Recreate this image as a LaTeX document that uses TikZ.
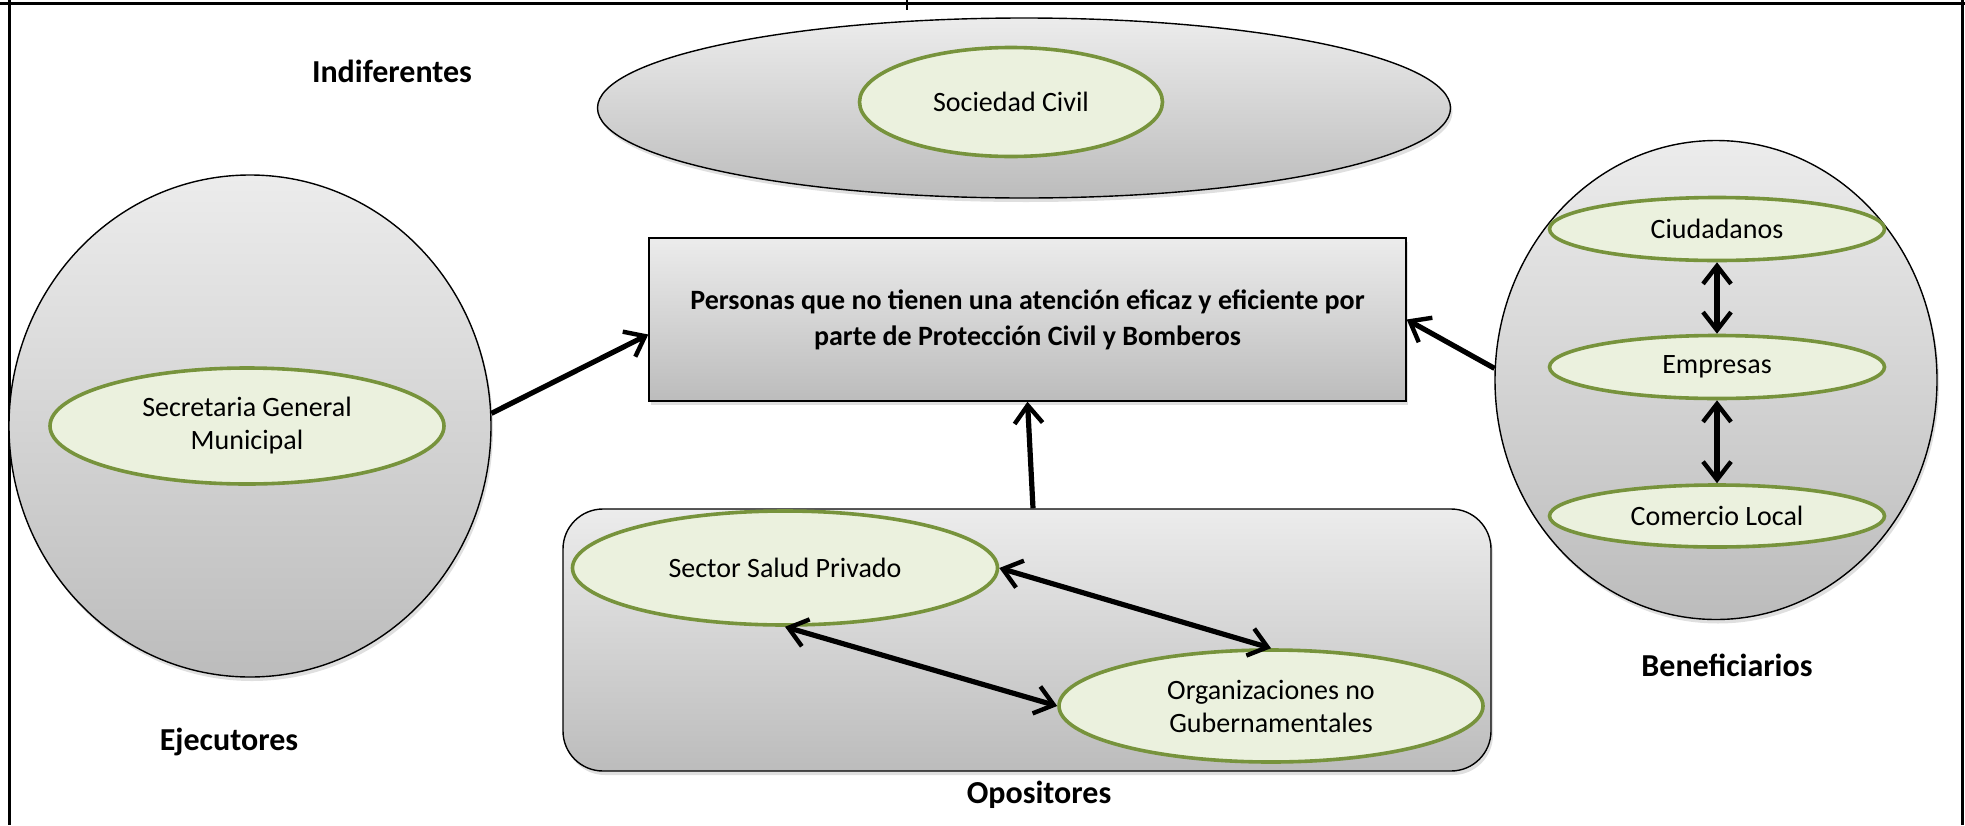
\documentclass[tikz,border=0pt]{standalone}
\usepackage{fontspec}
\setmainfont{Carlito}
\usetikzlibrary{shapes.geometric,arrows.meta,calc,shadows}
\definecolor{topgray}{RGB}{236,236,236}
\definecolor{botgray}{RGB}{188,188,188}
\definecolor{leaffill}{RGB}{235,241,222}
\definecolor{leafline}{RGB}{119,147,60}
\tikzset{
  grayshape/.style={draw=black, line width=0.7pt, top color=topgray, bottom color=botgray,
    drop shadow={opacity=0.25, shadow xshift=1pt, shadow yshift=-2pt}},
  leaf/.style={ellipse, draw=leafline, fill=leaffill, line width=1.8pt, inner sep=0pt,
    align=center, font=\fontsize{14}{16.5}\selectfont},
  grouplabel/.style={font=\fontsize{16}{19}\selectfont\bfseries},
  arr/.style={-{Straight Barb[length=9pt,width=14pt,line width=2.2pt]}, line width=2.6pt},
  darr/.style={{Straight Barb[length=9pt,width=14pt,line width=2.2pt]}-{Straight Barb[length=9pt,width=14pt,line width=2.2pt]}, line width=2.6pt},
  frameline/.style={line width=1.5pt, draw=black}
}
\begin{document}
\begin{tikzpicture}[x=0.5pt, y=-0.5pt]
\useasboundingbox (0,0) rectangle (1965,825);
% frame
\draw[frameline] (0,3) -- (1965,3);
\draw[frameline] (9,0) -- (9,825);
\draw[frameline] (1962,0) -- (1962,825);
\draw[line width=0.8pt] (907,0) -- (907,10);

% Indiferentes
\node[grayshape, ellipse, minimum width=426.5pt, minimum height=90pt, inner sep=0pt] (scouter) at (1024,108) {};
\node[leaf, minimum width=151.5pt, minimum height=54.5pt] (sc) at (1011,102) {Sociedad Civil};
\node[grouplabel] (lind) at (392,71) {Indiferentes};

% Ejecutores
\node[grayshape, ellipse, minimum width=241pt, minimum height=251pt, inner sep=0pt] (ejec) at (250,426) {};
\node[leaf, minimum width=197pt, minimum height=58pt] (sgm) at (247,426) {Secretaria General\\Municipal};
\node[grouplabel] (leje) at (229,742) {Ejecutores};

% Central problem
\node[grayshape, rectangle, minimum width=378.5pt, minimum height=81.5pt, inner sep=0pt,
  align=center, font=\fontsize{14}{18}\selectfont\bfseries] (prob) at (1027.5,319.5)
  {Personas que no tienen una atención eficaz y eficiente por\\parte de Protección Civil y Bomberos};

% Beneficiarios
\node[grayshape, ellipse, minimum width=221pt, minimum height=239.5pt, inner sep=0pt] (benef) at (1716,380) {};
\node[leaf, minimum width=167.5pt, minimum height=31.5pt] (ciud) at (1717,229) {Ciudadanos};
\node[leaf, minimum width=167.5pt, minimum height=31.5pt] (emp) at (1717,367) {Empresas};
\node[leaf, minimum width=167.5pt, minimum height=31pt] (com) at (1717,516) {Comercio Local};
\node[grouplabel] (lben) at (1727,665) {Beneficiarios};

% Opositores
\node[grayshape, rectangle, rounded corners=20pt, minimum width=464pt, minimum height=131pt, inner sep=0pt] (opp) at (1027,640) {};
\node[leaf, minimum width=212.5pt, minimum height=57pt] (ssp) at (785,568) {Sector Salud Privado};
\node[leaf, minimum width=212pt, minimum height=56pt] (ong) at (1271,706) {Organizaciones no\\Gubernamentales};
\node[grouplabel] (lopo) at (1039,795) {Opositores};

% connectors
\draw[arr] (ejec.3) -- ($(prob.west)+(0,15)$);
\draw[arr] (benef.177) -- (prob.east);
\draw[arr] ($(opp.north)+(6,0)$) -- (prob.south);
\draw[darr] (ciud.south) -- (emp.north);
\draw[darr] (emp.south) -- (com.north);
\draw[darr] (ssp.east) -- (ong.north);
\draw[darr] (ssp.south) -- (ong.west);
\end{tikzpicture}
\end{document}
